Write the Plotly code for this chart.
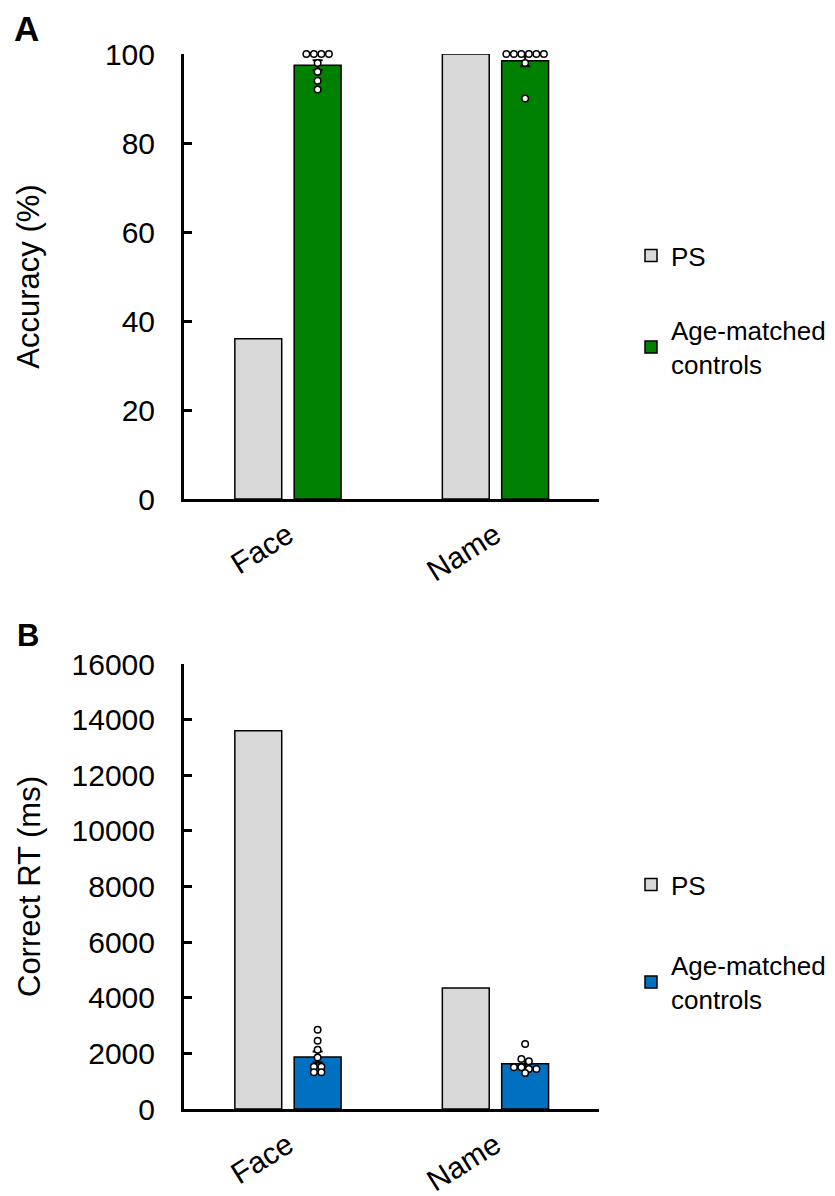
import numpy as np
import plotly.graph_objects as go

# ---- data ----
categories = ["Face", "Name"]
ps_accuracy = [36, 100]
ctrl_accuracy_face = [100, 100, 100, 100, 98, 96, 94, 92]
ctrl_accuracy_name = [100, 100, 100, 100, 100, 100, 98, 90]
ps_rt = [13600, 4350]
ctrl_rt_face = [2850, 2450, 2130, 1850, 1520, 1520, 1320, 1320]
ctrl_rt_name = [2337, 1800, 1715, 1500, 1500, 1440, 1440, 1295]
acc_ticks = [0, 20, 40, 60, 80, 100]
rt_ticks = [0, 2000, 4000, 6000, 8000, 10000, 12000, 14000, 16000]

# ---- styling / layout constants ----
PAGE_OFF = 8  # default body margin of the html page
W, H = 835 - PAGE_OFF, 1196 - PAGE_OFF
L, R, T, B = 176, 236, 46, 87
plot_w = W - L - R
plot_h = H - T - B
panel_h = 445
dom_a = [(plot_h - panel_h) / plot_h, 1.0]
dom_b = [0.0, panel_h / plot_h]
px_per_x = plot_w / 2.0
bar_w = 0.226
ps_off = -0.255
ctrl_off = 0.031
GRAY = "#D9D9D9"
GREEN = "#008000"
BLUE = "#0070C0"
FONT = "Liberation Sans, Arial, sans-serif"


def page_x(px):
    return (px - PAGE_OFF - L) / plot_w


def page_y(py):
    return (H - B - (py - PAGE_OFF)) / plot_h


def swarm(values, px_per_unit, tol=5.5, step=7.5):
    vals = np.asarray(values, dtype=float)
    order = np.argsort(-vals, kind="stable")
    groups = []
    for i in order:
        if groups and abs(vals[groups[-1][0]] - vals[i]) * px_per_unit < tol:
            groups[-1].append(i)
        else:
            groups.append([i])
    offs = np.zeros(len(vals))
    for g in groups:
        n = len(g)
        for k, i in enumerate(g):
            offs[i] = (k - (n - 1) / 2) * step
    return offs


def sem(v):
    v = np.asarray(v, dtype=float)
    return v.std(ddof=1) / np.sqrt(len(v))


fig = go.Figure()

panels = [
    ("x", "y", ps_accuracy, [ctrl_accuracy_face, ctrl_accuracy_name], GREEN, "legend", panel_h / 100.0),
    ("x2", "y2", ps_rt, [ctrl_rt_face, ctrl_rt_name], BLUE, "legend2", panel_h / 16000.0),
]

for xa, ya, ps_vals, ctrl_lists, col, leg, ppu in panels:
    xs = list(range(len(categories)))
    fig.add_trace(go.Bar(
        x=xs, y=ps_vals, width=bar_w, offset=ps_off, cliponaxis=False,
        marker=dict(color=GRAY, line=dict(color="black", width=1.5)),
        name="PS", xaxis=xa, yaxis=ya, legend=leg, legendgroup=leg + "ps",
    ))
    means = [float(np.mean(c)) for c in ctrl_lists]
    errs = [float(sem(c)) for c in ctrl_lists]
    fig.add_trace(go.Bar(
        x=xs, y=means, width=bar_w, offset=ctrl_off, cliponaxis=False,
        marker=dict(color=col, line=dict(color="black", width=1.5)),
        error_y=dict(type="data", array=errs, visible=True, color="black", thickness=2, width=5),
        name="Age-matched<br>controls", xaxis=xa, yaxis=ya, legend=leg, legendgroup=leg + "ctrl",
    ))
    px_all, py_all = [], []
    for ci, vals in enumerate(ctrl_lists):
        offs = swarm(vals, ppu)
        for v, o in zip(vals, offs):
            px_all.append(ci + ctrl_off + bar_w / 2 + o / px_per_x)
            py_all.append(v)
    fig.add_trace(go.Scatter(
        x=px_all, y=py_all, mode="markers", showlegend=False, cliponaxis=False,
        marker=dict(color="white", size=6.5, line=dict(color="black", width=1.5)),
        xaxis=xa, yaxis=ya, hoverinfo="y",
    ))

axis_common = dict(showline=True, linecolor="black", linewidth=3, showgrid=False, zeroline=False)
xcommon = dict(axis_common, range=[-0.5, 1.5], tickvals=[0, 1], ticktext=categories, ticks="",
               tickangle=-32, tickfont=dict(size=30, color="black", family=FONT), ticklabelstandoff=4)
ycommon = dict(axis_common, ticks="inside", ticklen=8, tickwidth=2.5, tickcolor="black",
               tickformat="d",
               tickfont=dict(size=30, color="black", family=FONT), ticklabelstandoff=20)

leg_font = dict(size=26, color="black", family=FONT)

fig.update_layout(
    width=W, height=H,
    margin=dict(l=L, r=R, t=T, b=B, autoexpand=False),
    paper_bgcolor="white", plot_bgcolor="white",
    barmode="overlay",
    font=dict(family=FONT, color="black", size=27),
    xaxis=dict(xcommon, domain=[0, 1], anchor="y"),
    yaxis=dict(ycommon, domain=dom_a, range=[0, 100], tickvals=acc_ticks, anchor="x",
               title=dict(text="Accuracy (%)", font=dict(size=31, color="black"), standoff=57)),
    xaxis2=dict(xcommon, domain=[0, 1], anchor="y2"),
    yaxis2=dict(ycommon, domain=dom_b, range=[0, 16000], tickvals=rt_ticks, anchor="x2",
                title=dict(text="Correct RT (ms)", font=dict(size=31, color="black"), standoff=22)),
    legend=dict(x=page_x(631), xanchor="left", y=page_y(232), yanchor="top",
                font=leg_font, bgcolor="rgba(0,0,0,0)",
                traceorder="grouped", tracegroupgap=38),
    legend2=dict(x=page_x(631), xanchor="left", y=page_y(861), yanchor="top",
                 font=leg_font, bgcolor="rgba(0,0,0,0)",
                 traceorder="grouped", tracegroupgap=44),
    showlegend=True,
    annotations=[
        dict(text="<b>A</b>", xref="paper", yref="paper", x=page_x(13), y=page_y(8),
             xanchor="left", yanchor="top", borderpad=0, showarrow=False,
             font=dict(size=35, color="black")),
        dict(text="<b>B</b>", xref="paper", yref="paper", x=page_x(15), y=page_y(636),
             xanchor="left", yanchor="middle", showarrow=False, font=dict(size=31, color="black")),
    ],
)

fig.write_html("out.html")
